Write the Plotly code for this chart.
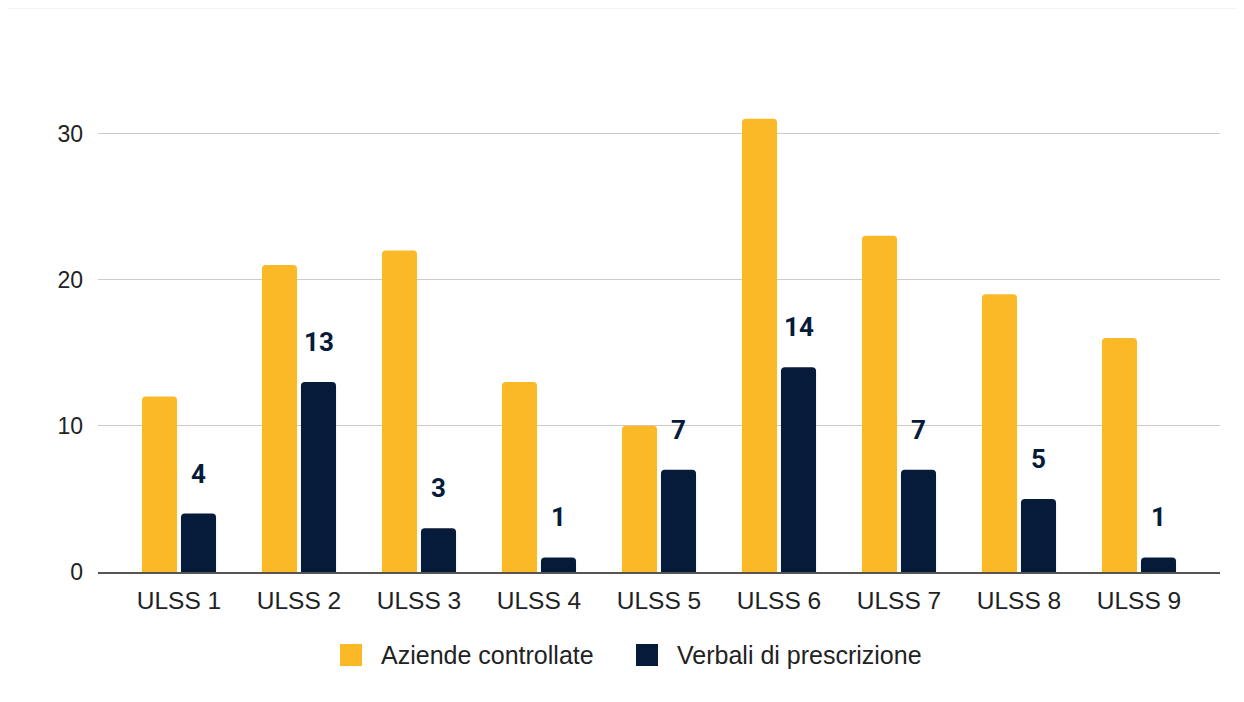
import plotly.graph_objects as go

categories = ["ULSS 1", "ULSS 2", "ULSS 3", "ULSS 4", "ULSS 5", "ULSS 6", "ULSS 7", "ULSS 8", "ULSS 9"]
aziende = [12, 21, 22, 13, 10, 31, 23, 19, 16]
verbali = [4, 13, 3, 1, 7, 14, 7, 5, 1]
series_names = ["Aziende controllate", "Verbali di prescrizione"]

YELLOW = "#FBB827"
NAVY = "#061A3A"
FONT = "Liberation Sans, Arial, sans-serif"

# the page body has an 8px margin; the figure is sized to compensate
OFF = 8
W, H = 1244 - OFF, 702 - OFF
ML, MR, MT, MB = 98 - OFF, 24, 75 - OFF, 130
PW, PH = W - ML - MR, H - MT - MB


def px_x(px):
    return (px - OFF - ML) / PW


def px_y(py):
    return (H - MB - (py - OFF)) / PH


fig = go.Figure()
fig.add_trace(go.Bar(x=categories, y=aziende, name=series_names[0],
                     marker=dict(color=YELLOW, line=dict(width=0)), showlegend=False))
fig.add_trace(go.Bar(x=categories, y=verbali, name=series_names[1],
                     marker=dict(color=NAVY, line=dict(width=0)), showlegend=False))

annotations = []
for c, v in zip(categories, verbali):
    annotations.append(dict(x=c, y=v, xref="x", yref="y", text=str(v), showarrow=False,
                            xshift=19.5, yshift=23, yanchor="bottom",
                            font=dict(family="Roboto, Liberation Sans, Arial", size=26,
                                      color=NAVY, weight="bold")))

# manual legend (large square swatches as in the reference)
legend_items = [(series_names[0], YELLOW, 340), (series_names[1], NAVY, 636)]
shapes = [dict(type="rect", xref="paper", yref="paper", x0=px_x(OFF), x1=px_x(1250),
               y0=px_y(710), y1=px_y(9), fillcolor="white", line=dict(width=0), layer="below")]
for name, col, x0 in legend_items:
    shapes.append(dict(type="rect", xref="paper", yref="paper", x0=px_x(x0), x1=px_x(x0 + 22),
                       y0=px_y(666), y1=px_y(644), fillcolor=col, line=dict(width=0)))
    annotations.append(dict(x=px_x(x0 + 39), y=px_y(655), xref="paper", yref="paper",
                            text=name, showarrow=False, xanchor="left", yanchor="middle",
                            font=dict(family=FONT, size=25, color="#222222")))

fig.update_layout(
    width=W, height=H,
    margin=dict(l=ML, r=MR, t=MT, b=MB),
    paper_bgcolor="#f3f3f3", plot_bgcolor="rgba(0,0,0,0)",
    barmode="group", bargap=0.35, bargroupgap=0.1, barcornerradius=4,
    font=dict(family=FONT, size=24, color="#222222"),
    showlegend=False,
    shapes=shapes, annotations=annotations,
    xaxis=dict(type="category", range=[-0.675, 8.675], showgrid=False,
               showline=True, linecolor="#555555", linewidth=2, ticks="",
               ticklabelstandoff=6, tickfont=dict(size=24.5, color="#222222")),
    yaxis=dict(range=[0, 34], tickvals=[0, 10, 20, 30], showgrid=True,
               gridcolor="#cccccc", gridwidth=1, zeroline=False, showline=False,
               ticks="", ticklabelstandoff=14, tickfont=dict(size=23, color="#222222")),
)

fig.write_html("out.html")
